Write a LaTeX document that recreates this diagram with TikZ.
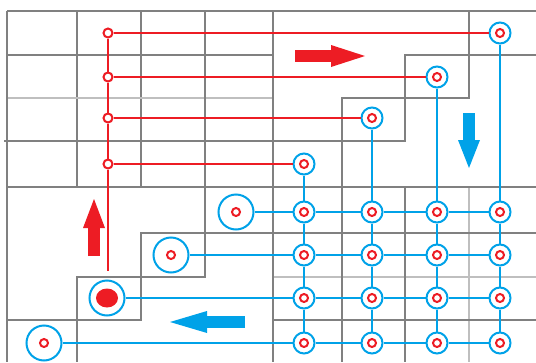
\documentclass[tikz,border=0pt]{standalone}
\usetikzlibrary{arrows.meta}
\definecolor{pred}{RGB}{237,28,36}
\definecolor{pblue}{RGB}{0,162,232}
\colorlet{lngr}{gray}
\colorlet{lnlt}{gray!50}
\tikzset{pxp/.style={
  x=1pt,
  y=-1pt
}}
\tikzset{grk/.style={draw=lngr,line width=2.2pt}}
\tikzset{grt/.style={draw=lngr,line width=1.1pt}}
\tikzset{grs/.style={draw=lnlt,line width=1.1pt}}
\tikzset{rdl/.style={draw=pred,line width=2pt}}
\tikzset{bll/.style={draw=pblue,line width=2.2pt}}
\tikzset{rdn/.style={
  circle,
  draw=pred,
  fill=white,
  line width=2pt,
  minimum size=9pt,
  inner sep=0pt
}}
\tikzset{inr/.style={path picture={
  \draw[pred,line width=2pt] (path picture bounding box.center) circle (4pt);}}}
\tikzset{inf/.style={path picture={
  \fill[pred] (path picture bounding box.center) ellipse (11pt and 9.5pt);}}}
\tikzset{bln/.style={
  circle,
  draw=pblue,
  fill=white,
  line width=2pt,
  inner sep=0pt
}}
\tikzset{tgn/.style={bln,inr,minimum size=21pt}}
\tikzset{bgn/.style={bln,inr,minimum size=35pt}}
\tikzset{fln/.style={bln,inf,minimum size=35pt}}
\tikzset{fta/.style={
  line width=12pt,
  -{Triangle[length=#1,width=22pt,line width=0pt]}
}}

\begin{document}
\begin{tikzpicture}[pxp]
    \useasboundingbox (0,0) rectangle (536,362);

    % Grey block grid
    \draw[grt] (77,11) -- (77,187);
    \draw[grt] (141,11) -- (141,187);
    \draw[grt] (7,55) -- (273,55);
    \draw[grs] (7,98) -- (273,98);
    \draw[grs] (273,277) -- (536,277);
    \draw[grs] (469,187) -- (469,362);
    \draw[grt] (405,187) -- (405,362);
    \draw[grt] (273,320) -- (536,320);
    \draw[grk] (7,11) -- (536,11);
    \draw[grk] (7,11) -- (7,362);
    \draw[grk] (4,141) -- (405,141) -- (405,55) -- (536,55);
    \draw[grk] (7,187) -- (536,187);
    \draw[grk] (205,11) -- (205,277) -- (77,277) -- (77,362);
    \draw[grk] (273,11) -- (273,362);
    \draw[grk] (469,11) -- (469,98) -- (342,98) -- (342,362);
    \draw[grk] (7,320) -- (141,320) -- (141,233) -- (536,233);

    % Red column
    \node[rdn] (r1) at (108,33) {};
    \node[rdn] (r2) at (108,77) {};
    \node[rdn] (r3) at (108,118) {};
    \node[rdn] (r4) at (108,164) {};
    \coordinate (rend) at (108,271);

    % Top targets
    \node[tgn] (t1) at (500,33) {};
    \node[tgn] (t2) at (437,77) {};
    \node[tgn] (t3) at (372,118) {};
    \node[tgn] (t4) at (304,164) {};

    % Left nodes
    \node[bgn] (b1) at (236,212) {};
    \node[bgn] (b2) at (171,255) {};
    \node[fln] (b3) at (107,298) {};
    \node[bgn] (b4) at (44,343) {};

    % Grid nodes
    \node[tgn] (g11) at (304,212) {};
    \node[tgn] (g12) at (372,212) {};
    \node[tgn] (g13) at (437,212) {};
    \node[tgn] (g14) at (500,212) {};
    \node[tgn] (g21) at (304,255) {};
    \node[tgn] (g22) at (372,255) {};
    \node[tgn] (g23) at (437,255) {};
    \node[tgn] (g24) at (500,255) {};
    \node[tgn] (g31) at (304,298) {};
    \node[tgn] (g32) at (372,298) {};
    \node[tgn] (g33) at (437,298) {};
    \node[tgn] (g34) at (500,298) {};
    \node[tgn] (g41) at (304,343) {};
    \node[tgn] (g42) at (372,343) {};
    \node[tgn] (g43) at (437,343) {};
    \node[tgn] (g44) at (500,343) {};

    % Red strings
    \draw[rdl] (r1) -- (r2) -- (r3) -- (r4) -- (rend);
    \draw[rdl] (r1) -- (t1);
    \draw[rdl] (r2) -- (t2);
    \draw[rdl] (r3) -- (t3);
    \draw[rdl] (r4) -- (t4);

    % Blue strings
    \draw[bll] (t4) -- (g11) -- (g21) -- (g31) -- (g41);
    \draw[bll] (t3) -- (g12) -- (g22) -- (g32) -- (g42);
    \draw[bll] (t2) -- (g13) -- (g23) -- (g33) -- (g43);
    \draw[bll] (t1) -- (g14) -- (g24) -- (g34) -- (g44);
    \draw[bll] (b1) -- (g11) -- (g12) -- (g13) -- (g14);
    \draw[bll] (b2) -- (g21) -- (g22) -- (g23) -- (g24);
    \draw[bll] (b3) -- (g31) -- (g32) -- (g33) -- (g34);
    \draw[bll] (b4) -- (g41) -- (g42) -- (g43) -- (g44);

    % Direction arrows
    \coordinate (ra0) at (295,56);
    \coordinate (ra1) at (365,56);
    \coordinate (ba0) at (469,113);
    \coordinate (ba1) at (469,168);
    \coordinate (ua0) at (94,256);
    \coordinate (ua1) at (94,199);
    \coordinate (la0) at (245,322);
    \coordinate (la1) at (170,322);
    \draw[fta=34pt,pred] (ra0) -- (ra1);
    \draw[fta=28pt,pblue] (ba0) -- (ba1);
    \draw[fta=29pt,pred] (ua0) -- (ua1);
    \draw[fta=37pt,pblue] (la0) -- (la1);

\end{tikzpicture}
\end{document}
